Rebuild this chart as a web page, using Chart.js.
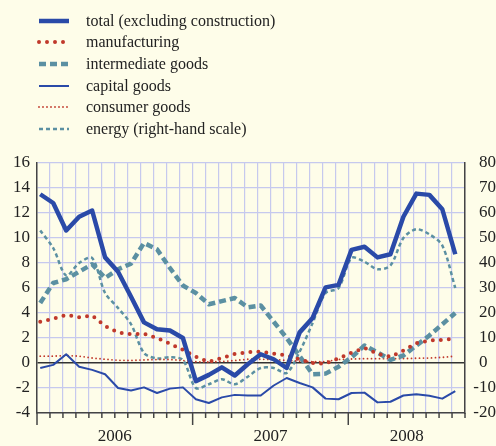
<!DOCTYPE html>
<html lang="en">
<head>
  <meta charset="UTF-8" />
  <title>Industrial production</title>
  <script src="https://cdn.jsdelivr.net/npm/chart.js"></script>
  <style>
    body { margin: 0; background: #fefde9; }
    .wrap { position: relative; width: 496px; height: 446px; }
    #legend { position: absolute; left: 37px; top: 10px; font-family: "Liberation Serif", serif; font-size: 16px; color: #222; }
    #legend div { height: 21.6px; display: flex; align-items: center; white-space: nowrap; }
    #legend svg { width: 34px; height: 8px; margin-right: 15px; overflow: visible; }
  </style>
</head>
<body>
  <div class="wrap">
    <canvas id="prodChart" width="496" height="446"></canvas>
    <div id="legend"></div>
  </div>

  <script>
    // monthly, Jan 2006 - Sep 2008
    const months = [
      "2006-01", "2006-02", "2006-03", "2006-04", "2006-05", "2006-06", "2006-07", "2006-08", "2006-09", "2006-10", "2006-11", "2006-12",
      "2007-01", "2007-02", "2007-03", "2007-04", "2007-05", "2007-06", "2007-07", "2007-08", "2007-09", "2007-10", "2007-11", "2007-12",
      "2008-01", "2008-02", "2008-03", "2008-04", "2008-05", "2008-06", "2008-07", "2008-08", "2008-09"
    ];
    const years = ["2006", "2007", "2008"];

    const total = [13.5, 12.8, 10.6, 11.7, 12.2, 8.45, 7.3, 5.3, 3.25, 2.7, 2.6, 2.0,
      -1.45, -0.95, -0.35, -1.0, -0.1, 0.7, 0.3, -0.4, 2.45, 3.6,
      6.05, 6.25, 9.05, 9.3, 8.45, 8.7, 11.7, 13.55, 13.45, 12.3, 8.7];
    const manufacturing = [3.3, 3.55, 3.85, 3.65, 3.8, 2.95, 2.45, 2.3, 2.35, 2.0, 1.55, 1.05,
      0.5, 0.1, 0.4, 0.72, 0.87, 0.9, 0.75, 0.6, 0.28, 0.0,
      -0.05, 0.37, 0.83, 1.2, 0.75, 0.5, 1.0, 1.58, 1.8, 1.85, 1.97];
    const intermediate = [4.8, 6.4, 6.7, 7.3, 7.9, 6.8, 7.5, 7.95, 9.6, 9.1, 7.6, 6.2,
      5.6, 4.7, 4.95, 5.2, 4.45, 4.6, 3.3, 2.0, 0.55, -0.9,
      -0.85, -0.3, 0.45, 1.4, 0.85, 0.25, 0.6, 1.4, 2.2, 3.1, 4.0];
    const capital = [-0.4, -0.15, 0.7, -0.3, -0.55, -0.9, -2.0, -2.2, -1.95, -2.4, -2.05, -1.95,
      -2.9, -3.2, -2.75, -2.55, -2.6, -2.6, -1.8, -1.2, -1.6, -1.95,
      -2.85, -2.9, -2.4, -2.37, -3.15, -3.1, -2.6, -2.5, -2.62, -2.85, -2.25];
    const consumer = [0.55, 0.55, 0.6, 0.55, 0.4, 0.3, 0.22, 0.2, 0.25, 0.28, 0.28, 0.2,
      0.1, 0.08, 0.12, 0.2, 0.3, 0.3, 0.28, 0.2, 0.15, 0.1,
      0.12, 0.28, 0.32, 0.35, 0.35, 0.35, 0.35, 0.38, 0.4, 0.45, 0.55];
    const energy = [53, 46, 35, 40, 42, 28, 22, 15.5, 4, 1.8, 2.3, 1.2,
      -10, -8.5, -6.5, -8.5, -5.5, -2, -2, -4, 4.5, 16,
      28, 30, 42, 40.5, 37.5, 39, 50, 53.5, 51.5, 47, 30];

    const BLUE = "#2a4aa8", RED = "#c0392b", TEAL = "#5b90a2";
    const GRID = "#c6c9ee", AXIS = "#444";

    const pts = arr => arr.map((v, i) => ({ x: i, y: v }));

    function line(label, values, color, width, dash, cap, axis, tension) {
      return {
        label: label,
        data: pts(values),
        borderColor: color,
        borderWidth: width,
        borderDash: dash,
        borderCapStyle: cap,
        borderJoinStyle: "round",
        pointRadius: 0,
        fill: false,
        tension: tension || 0,
        yAxisID: axis || "y"
      };
    }

    // tick marks + year labels under the x axis
    const yearAxis = {
      id: "yearAxis",
      afterDraw(chart) {
        const { ctx, chartArea } = chart;
        const x = chart.scales.x;
        const y0 = chartArea.bottom;
        ctx.save();
        ctx.strokeStyle = AXIS;
        ctx.lineWidth = 1.5;
        for (let k = 0; k <= months.length; k++) {
          const px = x.getPixelForValue(k - 0.25);
          const len = k % 12 === 0 ? 12 : 5;
          ctx.beginPath();
          ctx.moveTo(px, y0);
          ctx.lineTo(px, y0 + len);
          ctx.stroke();
        }
        ctx.fillStyle = "#222";
        ctx.font = '17px "Liberation Serif"';
        ctx.textAlign = "center";
        ctx.textBaseline = "middle";
        years.forEach((yr, j) => {
          const first = j * 12 - 0.25;
          const last = Math.min(first + 12, months.length - 0.25);
          ctx.fillText(yr, x.getPixelForValue((first + last) / 2), y0 + 24);
        });
        ctx.restore();
      }
    };

    const tickFont = { family: "Liberation Serif", size: 17 };

    const chart = new Chart(document.getElementById("prodChart"), {
      type: "line",
      data: {
        datasets: [
          line("total (excluding construction)", total, BLUE, 4.5, [], "butt"),
          line("manufacturing", manufacturing, RED, 4, [0, 8], "round"),
          line("intermediate goods", intermediate, TEAL, 4.5, [7, 4], "butt"),
          line("capital goods", capital, BLUE, 2, [], "butt"),
          line("consumer goods", consumer, RED, 1.8, [0, 4], "round"),
          line("energy (right-hand scale)", energy, TEAL, 2.5, [4, 3], "butt", "y2", 0.3)
        ]
      },
      options: {
        responsive: false,
        animation: false,
        layout: { padding: { top: 163, left: 0, right: 0, bottom: 0 } },
        plugins: { legend: { display: false }, tooltip: { enabled: false } },
        scales: {
          x: {
            type: "linear",
            min: -0.25,
            max: months.length - 0.25,
            afterBuildTicks: s => {
              s.ticks = months.map((m, k) => ({ value: k - 0.25 })).concat([{ value: months.length - 0.25 }]);
            },
            ticks: { display: false },
            grid: { color: GRID, lineWidth: 1.2, drawTicks: false },
            border: { color: AXIS, width: 1.5 },
            afterFit: s => { s.height = 33; }
          },
          y: {
            position: "left",
            min: -4,
            max: 16,
            ticks: { stepSize: 2, color: "#222", font: tickFont, padding: 7 },
            grid: {
              color: c => c.tick.value === 0 ? "#333" : GRID,
              lineWidth: c => c.tick.value === 0 ? 1.5 : 1.2,
              drawTicks: false
            },
            border: { color: AXIS, width: 1.5 },
            afterFit: s => { s.width = 37; }
          },
          y2: {
            position: "right",
            min: -20,
            max: 80,
            ticks: {
              stepSize: 10, color: "#222", font: tickFont, padding: 6, crossAlign: "far",
              // keep the single "0" under the digits of the other labels
              callback: v => v === 0 ? "0\u2007" : String(v)
            },
            grid: { display: false, drawTicks: false },
            border: { color: AXIS, width: 1.5 },
            afterFit: s => { s.width = 31; }
          }
        }
      },
      plugins: [yearAxis]
    });

    // legend, one entry per row
    const legend = document.getElementById("legend");
    chart.data.datasets.forEach(ds => {
      const dash = ds.borderDash.length ? ds.borderDash.join(" ") : "none";
      const row = document.createElement("div");
      row.innerHTML =
        `<svg viewBox="0 0 34 8"><line x1="2" y1="4" x2="32" y2="4" stroke="${ds.borderColor}"` +
        ` stroke-width="${ds.borderWidth}" stroke-dasharray="${dash}" stroke-linecap="${ds.borderCapStyle}"/></svg>` +
        `<span>${ds.label}</span>`;
      legend.appendChild(row);
    });
  </script>
</body>
</html>
